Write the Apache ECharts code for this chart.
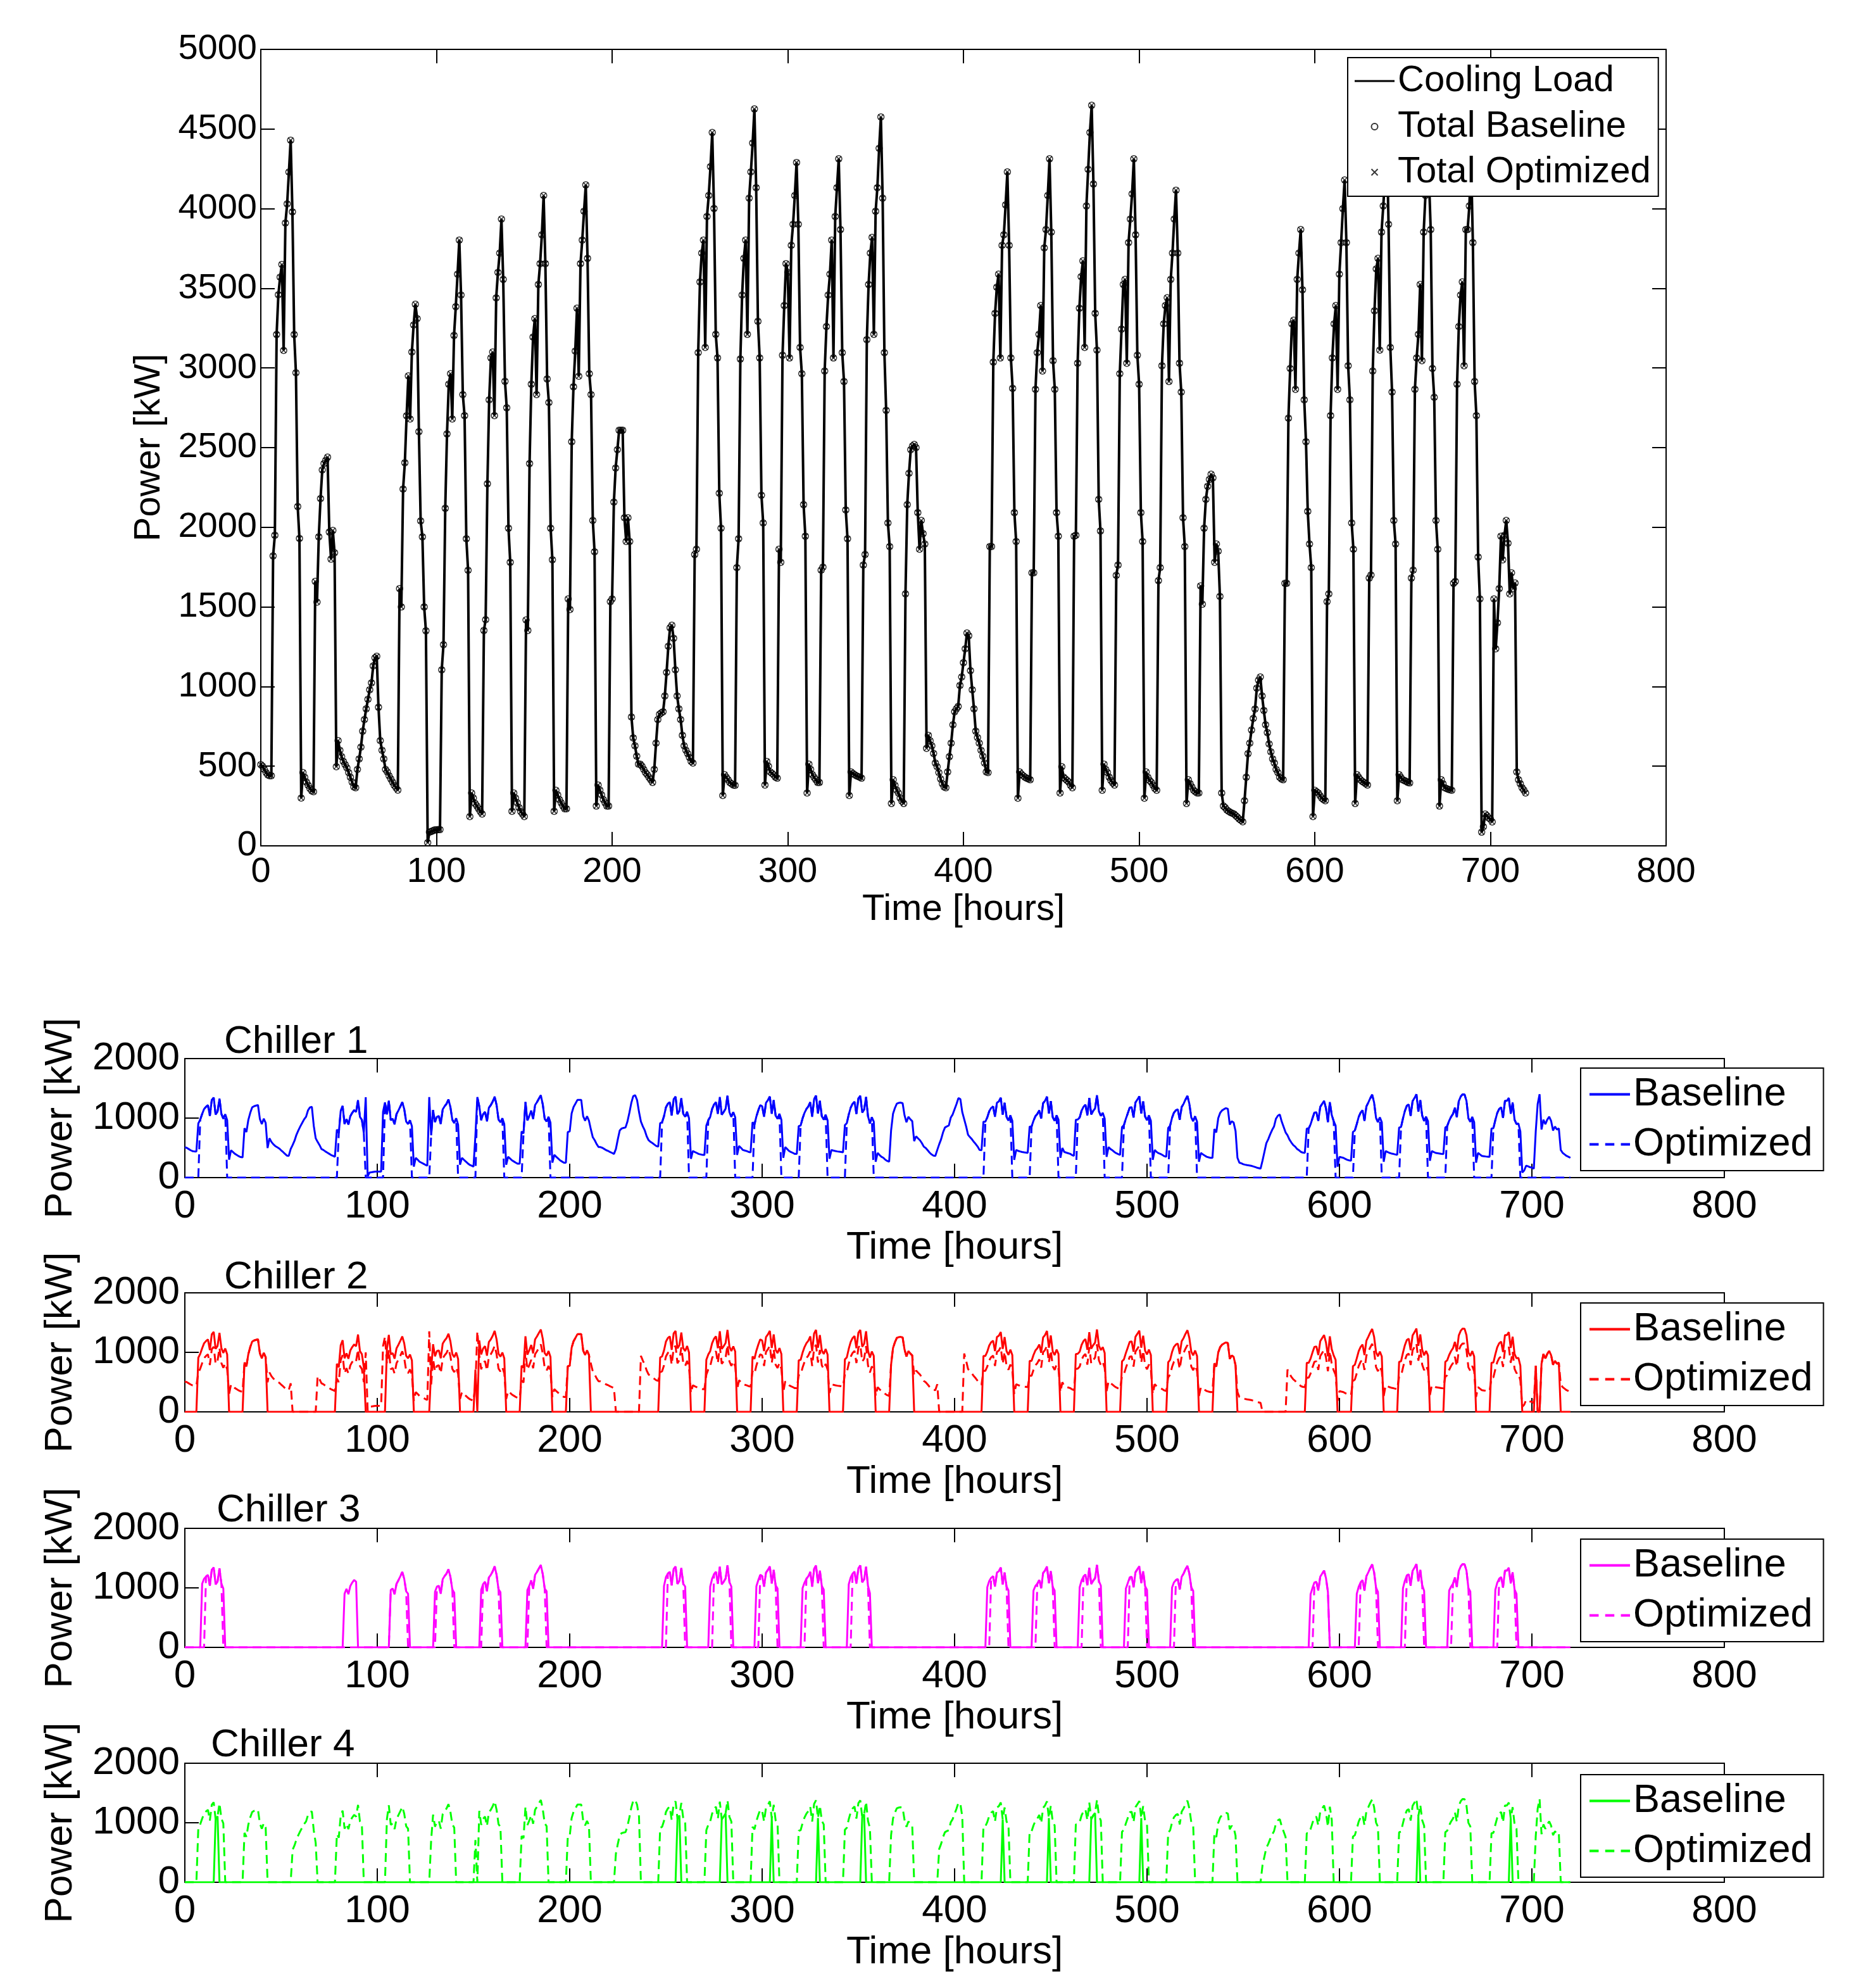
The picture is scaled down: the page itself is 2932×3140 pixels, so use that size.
<!DOCTYPE html>
<html><head><meta charset="utf-8">
<script src="https://cdn.jsdelivr.net/npm/echarts/dist/echarts.min.js"></script>
<style>html,body{margin:0;padding:0;background:#fff}#c{width:2932px;height:3140px}</style>
</head><body><div id="c"></div>
<script>
// ================= DATA (hourly values in kW, one row per day) =================
const Z = [0,0,0,0,0,0,0,0,0,0,0,0,0,0,0,0,0,0,0,0,0,0,0,0];

const coolingLoadByDay = [
[510,500,480,460,445,440,440,1820,1950,3210,3460,3570,3650,3110,3910,4030,4230,4430,3980,3210,2970,2130,1930,300],
[460,430,400,380,360,345,340,1660,1530,1940,2180,2360,2400,2420,2440,1970,1800,1980,1840,497,661,600,560,530],
[510,490,460,431,400,370,365,480,546,620,720,793,860,920,980,1023,1130,1180,1190,870,661,600,546,480],
[464,440,420,400,380,365,350,1615,1500,2240,2405,2700,2950,2680,3100,3270,3400,3310,2600,2040,1940,1500,1350,20],
[86,90,95,100,100,102,102,1105,1263,2119,2586,2898,2964,2680,3204,3385,3589,3803,3458,2833,2701,1928,1730,184],
[332,300,266,250,233,215,200,1352,1420,2273,2800,3063,3100,2701,3440,3600,3721,3935,3556,2916,2750,1994,1780,217],
[332,300,270,240,215,200,184,1418,1352,2400,2898,3194,3310,2833,3524,3655,3836,4083,3655,2931,2783,1994,1796,217],
[349,320,290,270,250,233,233,1550,1484,2537,2882,3106,3375,2948,3655,3803,3984,4149,3688,2964,2833,2043,1846,250],
[382,350,320,290,270,250,250,1533,1550,2158,2372,2487,2609,2609,2609,2060,1911,2060,1911,809,678,628,563,513],
[513,500,480,460,447,430,415,398,480,645,793,826,835,842,941,1089,1253,1369,1385,1303,1105,941,860,793],
[694,628,600,579,555,530,520,1829,1862,3096,3540,3721,3803,3129,3951,4083,4264,4478,4001,3211,3063,2214,1994,316],
[447,430,415,398,390,382,380,1747,1928,3056,3458,3688,3803,3211,4066,4231,4412,4626,4132,3293,3063,2201,2027,382],
[530,500,464,455,445,431,425,1862,1780,3080,3392,3655,3600,3063,3770,3902,4083,4290,3902,3129,2964,2142,1944,332],
[513,480,447,430,415,398,398,1731,1750,2981,3260,3458,3589,3803,3063,3951,4132,4313,3869,3096,2915,2109,1928,316],
[464,455,447,440,435,431,425,1763,1829,3178,3524,3721,3820,3211,3984,4132,4379,4576,4066,3096,2734,2027,1879,266],
[415,380,350,332,300,280,266,1582,2142,2339,2487,2510,2520,2500,2092,1862,2043,1960,1895,612,694,660,628,580],
[520,497,460,420,390,370,365,464,560,645,760,842,860,875,1007,1060,1150,1237,1336,1319,1100,980,860,720],
[680,645,600,563,520,464,460,1879,1879,3037,3343,3507,3589,3063,3770,3836,4024,4231,3770,3063,2872,2092,1911,299],
[464,450,440,431,425,420,415,1714,1714,2866,3096,3211,3392,2981,3754,3869,4083,4313,3853,3046,2866,2092,1944,332],
[497,431,420,410,400,380,365,1944,1950,3030,3375,3573,3672,3129,4017,4247,4478,4649,4155,3343,3112,2175,1977,349],
[513,480,460,431,410,395,382,1698,1763,2964,3244,3524,3556,3030,3787,3935,4093,4313,3836,3080,2898,2092,1911,299],
[464,430,410,398,380,360,349,1665,1747,3014,3277,3392,3441,2915,3556,3721,3935,4116,3721,3030,2849,2060,1879,266],
[415,390,370,350,340,332,332,1632,1517,1994,2175,2257,2300,2333,2310,1780,1895,1850,1566,332,250,240,225,217],
[210,205,200,190,180,168,160,151,283,431,579,645,727,800,859,990,1040,1060,941,850,760,711,640,590],
[546,520,480,460,431,420,415,1648,1648,2685,2997,3277,3300,2866,3556,3721,3869,3491,2800,2537,2100,1895,1747,184],
[349,340,332,315,299,290,283,1533,1582,2701,3063,3277,3392,2866,3589,3787,4000,4180,3787,3014,2800,2027,1862,266],
[447,430,415,405,398,390,382,1681,1700,2981,3359,3622,3688,3112,3853,4017,4200,4440,3902,3129,2849,2043,1895,283],
[447,430,415,410,405,398,395,1681,1731,2866,3063,3211,3524,3046,3853,4083,4200,4190,3869,2997,2816,2043,1862,250],
[415,390,365,360,355,352,349,1648,1660,2898,3260,3458,3540,3014,3869,3869,4017,4300,3787,2915,2701,1813,1550,86],
[120,200,190,175,168,150,1550,1237,1400,1615,1944,1796,1950,2043,1900,1582,1714,1615,1650,464,415,390,365,350]
];
const coolingLoadLastHour = [332];

const chiller1BaselineByDay = [
[510,500,480,460,445,440,440,910,975,1070,1153,1190,1217,1037,1303,1343,1058,1108,1327,1070,990,1065,965,300],
[460,430,400,380,360,345,340,830,765,970,1090,1180,1200,1210,1220,985,900,990,920,497,661,600,560,530],
[510,490,460,431,400,370,365,480,546,620,720,793,860,920,980,1023,1130,1180,1190,870,661,600,546,480],
[464,440,420,400,380,365,350,808,750,1120,1203,900,983,893,1033,1090,1133,1103,1300,1020,970,750,1350,20],
[86,90,95,100,100,102,102,1105,1263,1060,1293,966,988,893,1068,1128,1196,1268,1153,944,900,964,865,184],
[332,300,266,250,233,215,200,1352,710,1137,933,1021,1033,900,1147,1200,1240,1312,1185,972,917,997,890,217],
[332,300,270,240,215,200,184,709,1352,1200,966,1065,1103,944,1175,1218,1279,1361,1218,977,928,997,898,217],
[349,320,290,270,250,233,233,775,742,1269,961,1035,1125,983,1218,1268,1328,1383,1229,988,944,1022,923,250],
[382,350,320,290,270,250,250,767,775,1079,1186,1244,1305,1305,1305,1030,956,1030,956,809,678,628,563,513],
[513,500,480,460,447,430,415,398,480,645,793,826,835,842,941,1089,1253,1369,1385,1303,1105,941,860,793],
[694,628,600,579,555,530,520,915,931,1032,1180,1240,1268,1043,1317,1361,1066,1120,1334,1070,1021,1107,997,316],
[447,430,415,398,390,382,380,874,964,1019,1153,1229,1268,1070,1355,1058,1103,1157,1377,1098,1021,1101,1014,382],
[530,500,464,455,445,431,425,931,890,1027,1131,1218,1200,1021,1257,1301,1361,1073,1301,1043,988,1071,972,332],
[513,480,447,430,415,398,398,866,875,994,1087,1153,1196,1268,1021,1317,1377,1078,1290,1032,972,1055,964,316],
[464,455,447,440,435,431,425,882,915,1059,1175,1240,1273,1070,1328,1377,1095,1144,1355,1032,911,1014,940,266],
[415,380,350,332,300,280,266,791,1071,1170,1244,1255,1260,1250,1046,931,1022,980,948,612,694,660,628,580],
[520,497,460,420,390,370,365,464,560,645,760,842,860,875,1007,1060,1150,1237,1336,1319,1100,980,860,720],
[680,645,600,563,520,464,460,940,940,1012,1114,1169,1196,1021,1257,1279,1341,1058,1257,1021,957,1046,956,299],
[464,450,440,431,425,420,415,857,857,955,1032,1070,1131,994,1251,1290,1361,1078,1284,1015,955,1046,972,332],
[497,431,420,410,400,380,365,972,975,1010,1125,1191,1224,1043,1339,1062,1120,1162,1385,1114,1037,1088,989,349],
[513,480,460,431,410,395,382,849,882,988,1081,1175,1185,1010,1262,1312,1364,1078,1279,1027,966,1046,956,299],
[464,430,410,398,380,360,349,833,874,1005,1092,1131,1147,972,1185,1240,1312,1372,1240,1010,950,1030,940,266],
[415,390,370,350,340,332,332,816,759,997,1088,1129,1150,1167,1155,890,948,925,783,332,250,240,225,217],
[210,205,200,190,180,168,160,151,283,431,579,645,727,800,859,990,1040,1060,941,850,760,711,640,590],
[546,520,480,460,431,420,415,824,824,895,999,1092,1100,955,1185,1240,1290,1164,933,1269,1050,948,874,184],
[349,340,332,315,299,290,283,767,791,900,1021,1092,1131,955,1196,1262,1333,1393,1262,1005,933,1014,931,266],
[447,430,415,405,398,390,382,841,850,994,1120,1207,1229,1037,1284,1339,1400,1110,1301,1043,950,1022,948,283],
[447,430,415,410,405,398,395,841,866,955,1021,1070,1175,1015,1284,1361,1400,1397,1290,999,939,1022,931,250],
[415,390,365,360,355,352,349,824,830,966,1087,1153,1180,1005,1290,1290,1339,1075,1262,972,900,907,775,86],
[120,200,190,175,168,150,775,1237,1400,808,972,898,975,1022,950,791,857,808,825,464,415,390,365,350]
];
const chiller1BaselineLastHour = [332];

const chiller2BaselineByDay = [
[0,0,0,0,0,0,0,910,975,1070,1153,1190,1217,1037,1303,1343,1058,1108,1327,1070,990,1065,965,0],
[0,0,0,0,0,0,0,830,765,970,1090,1180,1200,1210,1220,985,900,990,920,0,0,0,0,0],
Z,
[0,0,0,0,0,0,0,808,750,1120,1203,900,983,893,1033,1090,1133,1103,1300,1020,970,750,0,0],
[0,0,0,0,0,0,0,0,0,1060,1293,966,988,893,1068,1128,1196,1268,1153,944,900,964,865,0],
[0,0,0,0,0,0,0,0,710,1137,933,1021,1033,900,1147,1200,1240,1312,1185,972,917,997,890,0],
[0,0,0,0,0,0,0,709,0,1200,966,1065,1103,944,1175,1218,1279,1361,1218,977,928,997,898,0],
[0,0,0,0,0,0,0,775,742,1269,961,1035,1125,983,1218,1268,1328,1383,1229,988,944,1022,923,0],
[0,0,0,0,0,0,0,767,775,1079,1186,1244,1305,1305,1305,1030,956,1030,956,0,0,0,0,0],
Z,
[0,0,0,0,0,0,0,915,931,1032,1180,1240,1268,1043,1317,1361,1066,1120,1334,1070,1021,1107,997,0],
[0,0,0,0,0,0,0,874,964,1019,1153,1229,1268,1070,1355,1058,1103,1157,1377,1098,1021,1101,1014,0],
[0,0,0,0,0,0,0,931,890,1027,1131,1218,1200,1021,1257,1301,1361,1073,1301,1043,988,1071,972,0],
[0,0,0,0,0,0,0,866,875,994,1087,1153,1196,1268,1021,1317,1377,1078,1290,1032,972,1055,964,0],
[0,0,0,0,0,0,0,882,915,1059,1175,1240,1273,1070,1328,1377,1095,1144,1355,1032,911,1014,940,0],
[0,0,0,0,0,0,0,791,1071,1170,1244,1255,1260,1250,1046,931,1022,980,948,0,0,0,0,0],
Z,
[0,0,0,0,0,0,0,940,940,1012,1114,1169,1196,1021,1257,1279,1341,1058,1257,1021,957,1046,956,0],
[0,0,0,0,0,0,0,857,857,955,1032,1070,1131,994,1251,1290,1361,1078,1284,1015,955,1046,972,0],
[0,0,0,0,0,0,0,972,975,1010,1125,1191,1224,1043,1339,1062,1120,1162,1385,1114,1037,1088,989,0],
[0,0,0,0,0,0,0,849,882,988,1081,1175,1185,1010,1262,1312,1364,1078,1279,1027,966,1046,956,0],
[0,0,0,0,0,0,0,833,874,1005,1092,1131,1147,972,1185,1240,1312,1372,1240,1010,950,1030,940,0],
[0,0,0,0,0,0,0,816,759,997,1088,1129,1150,1167,1155,890,948,925,783,0,0,0,0,0],
Z,
[0,0,0,0,0,0,0,824,824,895,999,1092,1100,955,1185,1240,1290,1164,933,1269,1050,948,874,0],
[0,0,0,0,0,0,0,767,791,900,1021,1092,1131,955,1196,1262,1333,1393,1262,1005,933,1014,931,0],
[0,0,0,0,0,0,0,841,850,994,1120,1207,1229,1037,1284,1339,1400,1110,1301,1043,950,1022,948,0],
[0,0,0,0,0,0,0,841,866,955,1021,1070,1175,1015,1284,1361,1400,1397,1290,999,939,1022,931,0],
[0,0,0,0,0,0,0,824,830,966,1087,1153,1180,1005,1290,1290,1339,1075,1262,972,900,907,775,0],
[0,0,0,0,0,0,775,0,0,808,972,898,975,1022,950,791,857,808,825,0,0,0,0,0]
];
const chiller2BaselineLastHour = [0];

const chiller3BaselineByDay = [
[0,0,0,0,0,0,0,0,0,1070,1153,1190,1217,1037,1303,1343,1058,1108,1327,1070,990,0,0,0],
Z, Z,
[0,0,0,0,0,0,0,0,0,0,0,900,983,893,1033,1090,1133,1103,0,0,0,0,0,0],
[0,0,0,0,0,0,0,0,0,0,0,966,988,893,1068,1128,1196,1268,1153,944,900,0,0,0],
[0,0,0,0,0,0,0,0,0,0,933,1021,1033,900,1147,1200,1240,1312,1185,972,917,0,0,0],
[0,0,0,0,0,0,0,0,0,0,966,1065,1103,944,1175,1218,1279,1361,1218,977,928,0,0,0],
[0,0,0,0,0,0,0,0,0,0,961,1035,1125,983,1218,1268,1328,1383,1229,988,944,0,0,0],
Z, Z,
[0,0,0,0,0,0,0,0,0,1032,1180,1240,1268,1043,1317,1361,1066,1120,1334,1070,1021,0,0,0],
[0,0,0,0,0,0,0,0,0,1019,1153,1229,1268,1070,1355,1058,1103,1157,1377,1098,1021,0,0,0],
[0,0,0,0,0,0,0,0,0,1027,1131,1218,1200,1021,1257,1301,1361,1073,1301,1043,988,0,0,0],
[0,0,0,0,0,0,0,0,0,994,1087,1153,1196,1268,1021,1317,1377,1078,1290,1032,972,0,0,0],
[0,0,0,0,0,0,0,0,0,1059,1175,1240,1273,1070,1328,1377,1095,1144,1355,1032,911,0,0,0],
Z, Z,
[0,0,0,0,0,0,0,0,0,1012,1114,1169,1196,1021,1257,1279,1341,1058,1257,1021,957,0,0,0],
[0,0,0,0,0,0,0,0,0,955,1032,1070,1131,994,1251,1290,1361,1078,1284,1015,955,0,0,0],
[0,0,0,0,0,0,0,0,0,1010,1125,1191,1224,1043,1339,1062,1120,1162,1385,1114,1037,0,0,0],
[0,0,0,0,0,0,0,0,0,988,1081,1175,1185,1010,1262,1312,1364,1078,1279,1027,966,0,0,0],
[0,0,0,0,0,0,0,0,0,1005,1092,1131,1147,972,1185,1240,1312,1372,1240,1010,950,0,0,0],
Z, Z,
[0,0,0,0,0,0,0,0,0,895,999,1092,1100,955,1185,1240,1290,1164,933,0,0,0,0,0],
[0,0,0,0,0,0,0,0,0,900,1021,1092,1131,955,1196,1262,1333,1393,1262,1005,933,0,0,0],
[0,0,0,0,0,0,0,0,0,994,1120,1207,1229,1037,1284,1339,1400,1110,1301,1043,950,0,0,0],
[0,0,0,0,0,0,0,0,0,955,1021,1070,1175,1015,1284,1361,1400,1397,1290,999,939,0,0,0],
[0,0,0,0,0,0,0,0,0,966,1087,1153,1180,1005,1290,1290,1339,1075,1262,972,900,0,0,0],
Z
];
const chiller3BaselineLastHour = [0];

// chiller 4 baseline only runs at a few peak hours: [hour, kW]
const chiller4BaselinePoints = [[0,0],[15,0],[16,1058],[17,1108],[18,0],[255,0],[256,1066],[257,1120],[258,0],
[278,0],[279,1058],[280,1103],[281,1157],[282,0],[304,0],[305,1073],[306,0],[328,0],[329,1078],[330,0],
[351,0],[352,1095],[353,1144],[354,0],[424,0],[425,1058],[426,0],[448,0],[449,1078],[450,0],
[470,0],[471,1062],[472,1120],[473,1162],[474,0],[496,0],[497,1078],[498,0],[640,0],[641,1110],[642,0],
[688,0],[689,1075],[690,0],[720,0]];

const chiller1OptimizedByDay = [
[0,0,0,0,0,0,0,0,975,1070,1153,1190,1217,1037,1303,1343,1058,1108,1327,1070,990,1065,0,0],
Z, Z,
[0,0,0,0,0,0,0,0,750,1120,1203,900,983,893,1033,1090,1133,1103,1300,1020,970,750,0,0],
[0,0,0,0,0,0,0,0,1263,1060,1293,966,988,893,1068,1128,1196,1268,1153,944,900,964,0,0],
[0,0,0,0,0,0,0,0,710,1137,933,1021,1033,900,1147,1200,1240,1312,1185,972,917,997,0,0],
[0,0,0,0,0,0,0,0,1352,1200,966,1065,1103,944,1175,1218,1279,1361,1218,977,928,997,0,0],
[0,0,0,0,0,0,0,0,742,1269,961,1035,1125,983,1218,1268,1328,1383,1229,988,944,1022,0,0],
Z, Z,
[0,0,0,0,0,0,0,0,931,1032,1180,1240,1268,1043,1317,1361,1066,1120,1334,1070,1021,1107,0,0],
[0,0,0,0,0,0,0,0,964,1019,1153,1229,1268,1070,1355,1058,1103,1157,1377,1098,1021,1101,0,0],
[0,0,0,0,0,0,0,0,890,1027,1131,1218,1200,1021,1257,1301,1361,1073,1301,1043,988,1071,0,0],
[0,0,0,0,0,0,0,0,875,994,1087,1153,1196,1268,1021,1317,1377,1078,1290,1032,972,1055,0,0],
[0,0,0,0,0,0,0,0,915,1059,1175,1240,1273,1070,1328,1377,1095,1144,1355,1032,911,1014,0,0],
Z, Z,
[0,0,0,0,0,0,0,0,940,1012,1114,1169,1196,1021,1257,1279,1341,1058,1257,1021,957,1046,0,0],
[0,0,0,0,0,0,0,0,857,955,1032,1070,1131,994,1251,1290,1361,1078,1284,1015,955,1046,0,0],
[0,0,0,0,0,0,0,0,975,1010,1125,1191,1224,1043,1339,1062,1120,1162,1385,1114,1037,1088,0,0],
[0,0,0,0,0,0,0,0,882,988,1081,1175,1185,1010,1262,1312,1364,1078,1279,1027,966,1046,0,0],
[0,0,0,0,0,0,0,0,874,1005,1092,1131,1147,972,1185,1240,1312,1372,1240,1010,950,1030,0,0],
Z, Z,
[0,0,0,0,0,0,0,0,824,895,999,1092,1100,955,1185,1240,1290,1164,933,1269,1050,948,0,0],
[0,0,0,0,0,0,0,0,791,900,1021,1092,1131,955,1196,1262,1333,1393,1262,1005,933,1014,0,0],
[0,0,0,0,0,0,0,0,850,994,1120,1207,1229,1037,1284,1339,1400,1110,1301,1043,950,1022,0,0],
[0,0,0,0,0,0,0,0,866,955,1021,1070,1175,1015,1284,1361,1400,1397,1290,999,939,1022,0,0],
[0,0,0,0,0,0,0,0,830,966,1087,1153,1180,1005,1290,1290,1339,1075,1262,972,900,907,0,0],
Z
];
const chiller1OptimizedLastHour = [0];

const chiller2OptimizedByDay = [
[510,500,480,460,445,440,440,660,725,820,903,940,967,787,1053,1093,808,858,1077,820,740,815,715,300],
[460,430,400,380,360,345,340,830,765,970,1090,1180,1200,1210,1220,985,900,990,920,497,661,600,560,530],
[510,490,460,431,400,370,365,480,0,0,0,0,0,0,0,0,0,0,0,0,0,600,546,480],
[464,440,420,400,380,365,350,558,500,870,953,650,733,643,783,840,883,853,1050,770,720,500,1000,20],
[86,90,95,100,100,102,102,1105,1263,810,1043,716,738,643,818,878,946,1018,903,694,650,714,615,184],
[332,300,266,250,233,215,200,1352,460,887,683,771,783,650,897,950,990,1062,935,722,667,747,640,217],
[332,300,270,240,215,200,184,459,1352,950,716,815,853,694,925,968,1029,1111,968,727,678,747,648,217],
[349,320,290,270,250,233,233,525,492,1019,711,785,875,733,968,1018,1078,1133,979,738,694,772,673,250],
[382,350,320,290,270,250,250,767,775,1079,1186,1244,1305,1305,1305,1030,956,1030,956,809,678,628,563,513],
[513,500,480,460,447,430,415,398,0,0,0,0,0,0,0,0,0,0,0,0,0,941,860,793],
[694,628,600,579,555,530,520,665,681,782,930,990,1018,793,1067,1111,816,870,1084,820,771,857,747,316],
[447,430,415,398,390,382,380,624,714,769,903,979,1018,820,1105,808,853,907,1127,848,771,851,764,382],
[530,500,464,455,445,431,425,681,640,777,881,968,950,771,1007,1051,1111,823,1051,793,738,821,722,332],
[513,480,447,430,415,398,398,616,625,744,837,903,946,1018,771,1067,1127,828,1040,782,722,805,714,316],
[464,455,447,440,435,431,425,632,665,809,925,990,1023,820,1078,1127,845,894,1105,782,661,764,690,266],
[415,380,350,332,300,280,266,791,1071,1170,1244,1255,1260,1250,1046,931,1022,980,948,612,694,660,628,580],
[520,497,460,420,390,370,365,464,0,0,0,0,0,0,0,0,0,0,0,0,0,980,860,720],
[680,645,600,563,520,464,460,690,690,762,864,919,946,771,1007,1029,1091,808,1007,771,707,796,706,299],
[464,450,440,431,425,420,415,607,607,705,782,820,881,744,1001,1040,1111,828,1034,765,705,796,722,332],
[497,431,420,410,400,380,365,722,725,760,875,941,974,793,1089,812,870,912,1135,864,787,838,739,349],
[513,480,460,431,410,395,382,599,632,738,831,925,935,760,1012,1062,1114,828,1029,777,716,796,706,299],
[464,430,410,398,380,360,349,583,624,755,842,881,897,722,935,990,1062,1122,990,760,700,780,690,266],
[415,390,370,350,340,332,332,816,759,997,1088,1129,1150,1167,1155,890,948,925,783,332,250,240,225,217],
[210,205,200,190,180,168,160,151,0,0,0,0,0,0,0,0,0,0,0,0,0,711,640,590],
[546,520,480,460,431,420,415,574,574,645,749,842,850,705,935,990,1040,914,683,1019,800,698,624,184],
[349,340,332,315,299,290,283,517,541,650,771,842,881,705,946,1012,1083,1143,1012,755,683,764,681,266],
[447,430,415,405,398,390,382,591,600,744,870,957,979,787,1034,1089,1150,860,1051,793,700,772,698,283],
[447,430,415,410,405,398,395,591,616,705,771,820,925,765,1034,1111,1150,1147,1040,749,689,772,681,250],
[415,390,365,360,355,352,349,574,580,716,837,903,930,755,1040,1040,1089,825,1012,722,650,657,525,86],
[120,200,190,175,168,150,775,0,0,808,972,898,975,1022,950,791,857,808,825,464,415,390,365,350]
];
const chiller2OptimizedLastHour = [332];

const chiller3OptimizedByDay = [
[0,0,0,0,0,0,0,0,0,0,0,1190,1217,1037,1303,1343,1058,1108,1327,1070,0,0,0,0],
Z, Z, Z,
[0,0,0,0,0,0,0,0,0,0,0,966,988,893,1068,1128,1196,1268,1153,944,0,0,0,0],
[0,0,0,0,0,0,0,0,0,0,0,1021,1033,900,1147,1200,1240,1312,1185,972,0,0,0,0],
[0,0,0,0,0,0,0,0,0,0,0,1065,1103,944,1175,1218,1279,1361,1218,977,0,0,0,0],
[0,0,0,0,0,0,0,0,0,0,0,1035,1125,983,1218,1268,1328,1383,1229,988,0,0,0,0],
Z, Z,
[0,0,0,0,0,0,0,0,0,0,0,1240,1268,1043,1317,1361,1066,1120,1334,1070,0,0,0,0],
[0,0,0,0,0,0,0,0,0,0,0,1229,1268,1070,1355,1058,1103,1157,1377,1098,0,0,0,0],
[0,0,0,0,0,0,0,0,0,0,0,1218,1200,1021,1257,1301,1361,1073,1301,1043,0,0,0,0],
[0,0,0,0,0,0,0,0,0,0,0,1153,1196,1268,1021,1317,1377,1078,1290,1032,0,0,0,0],
[0,0,0,0,0,0,0,0,0,0,0,1240,1273,1070,1328,1377,1095,1144,1355,1032,0,0,0,0],
Z, Z,
[0,0,0,0,0,0,0,0,0,0,0,1169,1196,1021,1257,1279,1341,1058,1257,1021,0,0,0,0],
[0,0,0,0,0,0,0,0,0,0,0,1070,1131,994,1251,1290,1361,1078,1284,1015,0,0,0,0],
[0,0,0,0,0,0,0,0,0,0,0,1191,1224,1043,1339,1062,1120,1162,1385,1114,0,0,0,0],
[0,0,0,0,0,0,0,0,0,0,0,1175,1185,1010,1262,1312,1364,1078,1279,1027,0,0,0,0],
[0,0,0,0,0,0,0,0,0,0,0,1131,1147,972,1185,1240,1312,1372,1240,1010,0,0,0,0],
Z, Z,
[0,0,0,0,0,0,0,0,0,0,0,1092,1100,955,1185,1240,1290,1164,933,0,0,0,0,0],
[0,0,0,0,0,0,0,0,0,0,0,1092,1131,955,1196,1262,1333,1393,1262,1005,0,0,0,0],
[0,0,0,0,0,0,0,0,0,0,0,1207,1229,1037,1284,1339,1400,1110,1301,1043,0,0,0,0],
[0,0,0,0,0,0,0,0,0,0,0,1070,1175,1015,1284,1361,1400,1397,1290,999,0,0,0,0],
[0,0,0,0,0,0,0,0,0,0,0,1153,1180,1005,1290,1290,1339,1075,1262,972,0,0,0,0],
Z
];
const chiller3OptimizedLastHour = [0];

const chiller4OptimizedByDay = [
[0,0,0,0,0,0,0,910,975,1070,1153,1190,1217,1037,1303,1343,1058,1108,1327,1070,990,0,0,0],
[0,0,0,0,0,0,0,830,765,970,1090,1180,1200,1210,1220,985,900,990,920,0,0,0,0,0],
[0,0,0,0,0,0,0,0,546,620,720,793,860,920,980,1023,1130,1180,1190,870,661,0,0,0],
[0,0,0,0,0,0,0,808,750,1120,1203,900,983,893,1033,1090,1133,1103,1300,1020,970,0,0,0],
[0,0,0,0,0,0,0,0,0,1060,1293,966,988,893,1068,1128,1196,1268,1153,944,900,0,0,0],
[0,0,0,0,0,0,0,0,710,1137,933,1021,1033,900,1147,1200,1240,1312,1185,972,917,0,0,0],
[0,0,0,0,0,0,0,709,0,1200,966,1065,1103,944,1175,1218,1279,1361,1218,977,928,0,0,0],
[0,0,0,0,0,0,0,775,742,1269,961,1035,1125,983,1218,1268,1328,1383,1229,988,944,0,0,0],
[0,0,0,0,0,0,0,767,775,1079,1186,1244,1305,1305,1305,1030,956,1030,956,0,0,0,0,0],
[0,0,0,0,0,0,0,0,480,645,793,826,835,842,941,1089,1253,1369,1385,1303,1105,0,0,0],
[0,0,0,0,0,0,0,915,931,1032,1180,1240,1268,1043,1317,1361,1066,1120,1334,1070,1021,0,0,0],
[0,0,0,0,0,0,0,874,964,1019,1153,1229,1268,1070,1355,1058,1103,1157,1377,1098,1021,0,0,0],
[0,0,0,0,0,0,0,931,890,1027,1131,1218,1200,1021,1257,1301,1361,1073,1301,1043,988,0,0,0],
[0,0,0,0,0,0,0,866,875,994,1087,1153,1196,1268,1021,1317,1377,1078,1290,1032,972,0,0,0],
[0,0,0,0,0,0,0,882,915,1059,1175,1240,1273,1070,1328,1377,1095,1144,1355,1032,911,0,0,0],
[0,0,0,0,0,0,0,791,1071,1170,1244,1255,1260,1250,1046,931,1022,980,948,0,0,0,0,0],
[0,0,0,0,0,0,0,0,560,645,760,842,860,875,1007,1060,1150,1237,1336,1319,1100,0,0,0],
[0,0,0,0,0,0,0,940,940,1012,1114,1169,1196,1021,1257,1279,1341,1058,1257,1021,957,0,0,0],
[0,0,0,0,0,0,0,857,857,955,1032,1070,1131,994,1251,1290,1361,1078,1284,1015,955,0,0,0],
[0,0,0,0,0,0,0,972,975,1010,1125,1191,1224,1043,1339,1062,1120,1162,1385,1114,1037,0,0,0],
[0,0,0,0,0,0,0,849,882,988,1081,1175,1185,1010,1262,1312,1364,1078,1279,1027,966,0,0,0],
[0,0,0,0,0,0,0,833,874,1005,1092,1131,1147,972,1185,1240,1312,1372,1240,1010,950,0,0,0],
[0,0,0,0,0,0,0,816,759,997,1088,1129,1150,1167,1155,890,948,925,783,0,0,0,0,0],
[0,0,0,0,0,0,0,0,283,431,579,645,727,800,859,990,1040,1060,941,850,760,0,0,0],
[0,0,0,0,0,0,0,824,824,895,999,1092,1100,955,1185,1240,1290,1164,933,1269,1050,0,0,0],
[0,0,0,0,0,0,0,767,791,900,1021,1092,1131,955,1196,1262,1333,1393,1262,1005,933,0,0,0],
[0,0,0,0,0,0,0,841,850,994,1120,1207,1229,1037,1284,1339,1400,1110,1301,1043,950,0,0,0],
[0,0,0,0,0,0,0,841,866,955,1021,1070,1175,1015,1284,1361,1400,1397,1290,999,939,0,0,0],
[0,0,0,0,0,0,0,824,830,966,1087,1153,1180,1005,1290,1290,1339,1075,1262,972,900,0,0,0],
[0,0,0,0,0,0,775,1237,1400,808,972,898,975,1022,950,791,857,808,825,0,0,0,0,0]
];
const chiller4OptimizedLastHour = [0];

const chillerTitles = ['Chiller 1','Chiller 2','Chiller 3','Chiller 4'];
const chillerColors = ['#0000ff','#ff0000','#ff00ff','#00ff00'];

// ================= BUILD =================
const coolingLoad = coolingLoadByDay.flat().concat(coolingLoadLastHour);
const totalBaseline = coolingLoad;   // totals lie on the load curve in the picture
const totalOptimized = coolingLoad;
const baselines = [
  chiller1BaselineByDay.flat().concat(chiller1BaselineLastHour),
  chiller2BaselineByDay.flat().concat(chiller2BaselineLastHour),
  chiller3BaselineByDay.flat().concat(chiller3BaselineLastHour),
  null];
const optimized = [
  chiller1OptimizedByDay.flat().concat(chiller1OptimizedLastHour),
  chiller2OptimizedByDay.flat().concat(chiller2OptimizedLastHour),
  chiller3OptimizedByDay.flat().concat(chiller3OptimizedLastHour),
  chiller4OptimizedByDay.flat().concat(chiller4OptimizedLastHour)];

const toXY = arr => arr.map((v,i)=>[i,v]);
const FONT = "'Liberation Sans', Arial, Helvetica, sans-serif";
const XPATH = 'path://M0,0L10,10M0,10L10,0';
const LINE_ICON = 'path://M0,0H64V4H0Z';
const DASH_ICON = 'path://M0,0H14V4H0Z M24,0H38V4H24Z M48,0H62V4H48Z';

const grids = [
  {left:412, top:78, width:2220, height:1258},
  {left:292, top:1672, width:2432, height:188},
  {left:292, top:2042, width:2432, height:188},
  {left:292, top:2414, width:2432, height:188},
  {left:292, top:2785, width:2432, height:188}
];

const xAxes=[], yAxes=[];
grids.forEach((g,gi)=>{
  const top = gi===0;
  const fs = top?56:62, nfs = top?58:62;
  const lineS = {show:true, onZero:false, lineStyle:{color:'#000', width:2}};
  const tickS = {show:true, inside:true, length:22, lineStyle:{color:'#000', width:2}};
  xAxes.push({gridIndex:gi, type:'value', min:0, max:800, interval:100, position:'bottom',
    axisLine:lineS, axisTick:tickS, splitLine:{show:false},
    axisLabel:{fontSize:fs, color:'#000', fontFamily:FONT, margin: top?14:15, formatter:v=>String(v)},
    name:'Time [hours]', nameLocation:'middle', nameGap: top?72:80,
    nameTextStyle:{fontSize:nfs, color:'#000', fontFamily:FONT}});
  xAxes.push({gridIndex:gi, type:'value', min:0, max:800, interval:100, position:'top',
    axisLine:lineS, axisTick:tickS, splitLine:{show:false}, axisLabel:{show:false}});
  const ymax = top?5000:2000, yint = top?500:1000;
  yAxes.push({gridIndex:gi, type:'value', min:0, max:ymax, interval:yint, position:'left',
    axisLine:lineS, axisTick:tickS, splitLine:{show:false},
    axisLabel:{fontSize:fs, color:'#000', fontFamily:FONT, margin: top?6:8, formatter:v=>String(v)},
    name:'Power [kW]', nameLocation:'middle', nameRotate:90, nameGap: top?147:165,
    nameTextStyle:{fontSize:nfs, color:'#000', fontFamily:FONT}});
  yAxes.push({gridIndex:gi, type:'value', min:0, max:ymax, interval:yint, position:'right',
    axisLine:lineS, axisTick:tickS, splitLine:{show:false}, axisLabel:{show:false}});
});

const series = [
  {type:'line', name:'Cooling Load', xAxisIndex:0, yAxisIndex:0, data:toXY(coolingLoad),
   showSymbol:false, symbol:'none', lineStyle:{color:'#000', width:4}, itemStyle:{color:'#000'}, z:2},
  {type:'scatter', name:'Total Baseline', xAxisIndex:0, yAxisIndex:0, data:toXY(totalBaseline),
   symbol:'circle', symbolSize:10, itemStyle:{color:'transparent', borderColor:'#000', borderWidth:1.5}, z:3},
  {type:'scatter', name:'Total Optimized', xAxisIndex:0, yAxisIndex:0, data:toXY(totalOptimized),
   symbol:XPATH, symbolSize:8, itemStyle:{color:'transparent', borderColor:'#000', borderWidth:1.5}, z:3}
];
for(let k=0;k<4;k++){
  const col = chillerColors[k];
  const baseData = k===3 ? chiller4BaselinePoints : toXY(baselines[k]);
  series.push({type:'line', name:'Baseline#'+(k+1), xAxisIndex:2*(k+1), yAxisIndex:2*(k+1), data:baseData,
    showSymbol:false, symbol:'none', lineStyle:{color:col, width:3}, itemStyle:{color:col}, z:2});
  series.push({type:'line', name:'Optimized#'+(k+1), xAxisIndex:2*(k+1), yAxisIndex:2*(k+1), data:toXY(optimized[k]),
    showSymbol:false, symbol:'none', lineStyle:{color:col, width:3, type:[14,8]}, itemStyle:{color:col}, z:3});
}

const legends = [{
  orient:'vertical', left:2129, top:91, itemWidth:63, itemHeight:10, itemGap:14, padding:[8,12,9,11],
  backgroundColor:'#fff', borderColor:'#000', borderWidth:2, selectedMode:false, z:20,
  textStyle:{fontSize:58, lineHeight:58, color:'#000', fontFamily:FONT},
  data:[{name:'Cooling Load', icon:'path://M0,0H63V3H0Z'},{name:'Total Baseline', icon:'circle'},{name:'Total Optimized', icon:XPATH}]
}];
const legendTops = [1687,2058,2431,2803];
for(let k=0;k<4;k++){
  legends.push({orient:'vertical', left:2497, top:legendTops[k], itemWidth:64, itemHeight:14, itemGap:16,
    padding:[10,17,10,14], backgroundColor:'#fff', borderColor:'#000', borderWidth:2, selectedMode:false, z:20,
    textStyle:{fontSize:63, lineHeight:63, color:'#000', fontFamily:FONT},
    formatter:n=>n.split('#')[0],
    data:[{name:'Baseline#'+(k+1), icon:LINE_ICON},{name:'Optimized#'+(k+1), icon:DASH_ICON}]});
}

const titleY = [1646,2018,2386,2757];
const titleX = [354,354,342,333];
const graphics = chillerTitles.map((t,k)=>({type:'text', x:titleX[k], y:titleY[k], z:10,
  style:{text:t, fontSize:62, fontFamily:FONT, fill:'#000', verticalAlign:'middle', align:'left'}}));

const chart = echarts.init(document.getElementById('c'), null, {renderer:'canvas', width:2932, height:3140});
chart.setOption({
  animation:false, backgroundColor:'#fff',
  grid:grids, xAxis:xAxes, yAxis:yAxes, series, legend:legends,
  graphic:{elements:graphics}
});
</script>
</body></html>
